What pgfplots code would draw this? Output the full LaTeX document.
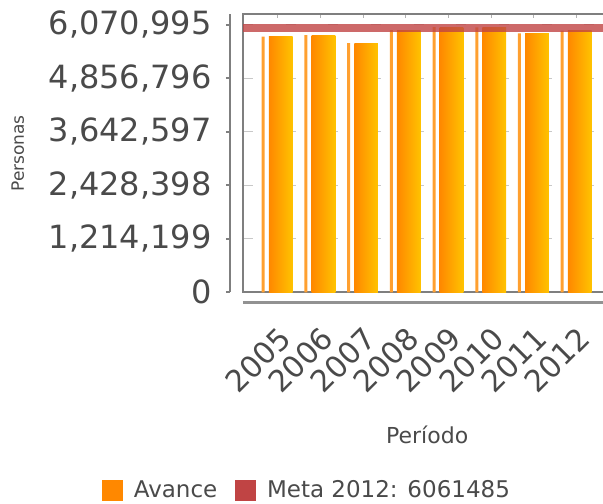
\documentclass[border=0pt]{standalone}
\usepackage{fontspec}
\setmainfont{DejaVu Sans}
\usepackage{pgfplots}
\pgfplotsset{compat=1.18}

\definecolor{barL}{HTML}{FF8800}
\definecolor{barR}{HTML}{FFC300}
\definecolor{stripe}{HTML}{FFA030}
\definecolor{meta}{HTML}{C04444}
\definecolor{txt}{HTML}{4A4A4A}
\definecolor{frame}{HTML}{7F7F7F}
\definecolor{gridc}{HTML}{C8C8C8}

\pgfplotsset{
  avance/.style={ybar, bar width=11.85bp, bar shift=1.5bp, draw=none,
    left color=barL, right color=barR, forget plot},
}

\begin{document}
\begin{tikzpicture}
\begin{axis}[
  at={(0,0)}, anchor=south west,
  scale only axis, width=184.2bp, height=139.15bp,
  clip=false,
  xmin=-0.813, xmax=7.813, ymin=0, ymax=6316100,
  scaled y ticks=false,
  xtick={0,1,2,3,4,5,6,7},
  xticklabels={2005,2006,2007,2008,2009,2010,2011,2012},
  ytick={0,1214199,2428398,3642597,4856796,6070995},
  yticklabels={0,{1,214,199},{2,428,398},{3,642,597},{4,856,796},{6,070,995}},
  xtick pos=right, xticklabel pos=left,
  ytick pos=left, yticklabel pos=left,
  tick align=inside, major tick length=2bp,
  xtick style={draw=frame!60, line width=0.5bp},
  ytick style={draw=frame, line width=1bp, xshift=-8.5bp},
  ymajorgrids,
  grid style={gridc, line width=0.5bp, dash pattern=on 5bp off 16.33bp},
  axis line style={draw=frame, line width=1bp},
  xticklabel style={font=\fontsize{15bp}{17bp}\selectfont, text=txt, inner sep=0pt,
    xshift=3.7bp, yshift=-20.3bp, rotate=45, anchor=east},
  yticklabel style={font=\fontsize{16bp}{18bp}\selectfont, text=txt, inner sep=0pt,
    anchor=east, xshift=-15.5bp},
  xlabel={Período},
  xlabel style={at={(axis description cs:0.5,-0.513)}, anchor=center,
    font=\fontsize{11bp}{13bp}\selectfont, text=txt},
  ylabel={Personas},
  ylabel style={at={(axis description cs:-0.611,0.499)}, anchor=center,
    font=\fontsize{8.5bp}{10bp}\selectfont, text=txt},
  legend columns=2,
  legend style={at={(axis description cs:-0.3836,-0.711)}, anchor=west,
    draw=none, fill=none, inner sep=0pt,
    font=\fontsize{11.5bp}{13bp}\selectfont, text=txt,
    /tikz/every odd column/.append style={column sep=3.5bp},
    /tikz/every even column/.append style={column sep=7bp}},
]

% thin highlight stripe left of each bar
\addplot[ybar, bar width=1.5bp, bar shift=-7.25bp, fill=stripe, draw=none, forget plot]
coordinates {(0,5801000) (1,5839000) (2,5658000) (3,5953000)
             (4,6021000) (5,6014000) (6,5878000) (7,5937000)};

% Avance, one plot per bar so that each bar gets its own gradient
\addplot[avance] coordinates {(0,5801000)};
\addplot[avance] coordinates {(1,5839000)};
\addplot[avance] coordinates {(2,5658000)};
\addplot[avance] coordinates {(3,5953000)};
\addplot[avance] coordinates {(4,6021000)};
\addplot[avance] coordinates {(5,6014000)};
\addplot[avance] coordinates {(6,5878000)};
\addplot[avance] coordinates {(7,5937000)};

% Meta 2012
\addplot[meta, line width=4bp, opacity=0.8, yshift=-1.4bp, forget plot]
coordinates {(-0.813,6061485) (7.813,6061485)};

% detached axis lines
\draw[frame, line width=1bp] ([xshift=-6.5bp]rel axis cs:0,0) -- ([xshift=-6.5bp]rel axis cs:0,1);
\draw[frame!85, line width=1.5bp] ([yshift=-5.2bp]rel axis cs:0,0) -- ([yshift=-5.2bp]rel axis cs:1,0);

\addlegendimage{legend image code/.code={\fill[barL] (0bp,-5bp) rectangle (10bp,5bp);}}
\addlegendentry{Avance}
\addlegendimage{legend image code/.code={\fill[meta] (0bp,-5bp) rectangle (10bp,5bp);}}
\addlegendentry{Meta 2012: 6061485}
\end{axis}
\pgfresetboundingbox
\path[use as bounding box] (-121.5bp,-105.85bp) rectangle (180bp,146.15bp);
\end{tikzpicture}
\end{document}
